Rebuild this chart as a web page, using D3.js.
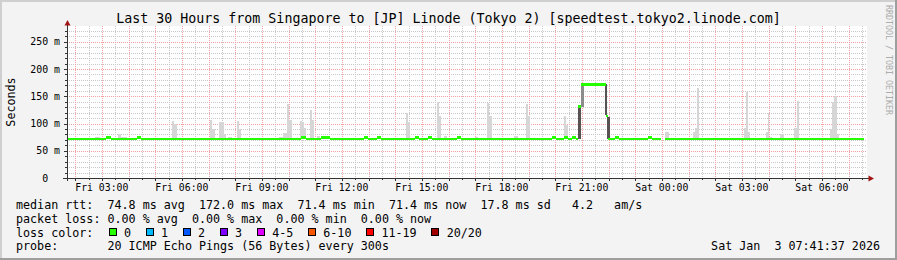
<!DOCTYPE html>
<html>
<head>
<meta charset="utf-8">
<script src="https://cdn.jsdelivr.net/npm/d3@7"></script>
<style>
  html, body { margin: 0; padding: 0; background: #f3f3f3; }
  svg { display: block; }
  text { font-family: "DejaVu Sans Mono", monospace; fill: #000; white-space: pre; }
</style>
</head>
<body>
<svg id="chart" width="897" height="260"></svg>
<script>
// ---- data ----
const title = "Last 30 Hours from Singapore to [JP] Linode (Tokyo 2) [speedtest.tokyo2.linode.com]";
const windowStart = "Fri 01:41:37";
const windowEnd = "Sat 07:41:37";

const yTicks = [0, 50, 100, 150, 200, 250];
const yTickLabels = ["0  ", "50 m", "100 m", "150 m", "200 m", "250 m"];

// median rtt (ms), step changes: [time, value]; null = no data
const medianSteps = [
  ["Fri 01:40", 71.4], ["Fri 03:09", 74.5], ["Fri 03:20", 71.4],
  ["Fri 04:18", 74.5], ["Fri 04:29", 71.4], ["Fri 10:28", 74.5],
  ["Fri 10:39", 71.4], ["Fri 11:13", 74.5], ["Fri 11:33", 71.4],
  ["Fri 12:50", 74.5], ["Fri 12:59", 71.4], ["Fri 13:19", 74.5],
  ["Fri 13:28", 71.4], ["Fri 14:45", 74.5], ["Fri 14:54", 71.4],
  ["Fri 15:14", 74.5], ["Fri 15:23", 71.4], ["Fri 16:19", 74.5],
  ["Fri 16:28", 71.4], ["Fri 19:53", 74.5], ["Fri 20:02", 71.4],
  ["Fri 20:20", 74.5], ["Fri 20:29", 71.4], ["Fri 20:38", 74.5],
  ["Fri 20:47", 71.4], ["Fri 20:52", 131], ["Fri 20:57", 172],
  ["Fri 21:54", 114], ["Fri 21:59", 71.4], ["Fri 22:15", 74.5],
  ["Fri 22:24", 71.4], ["Fri 23:29", 74.5], ["Fri 23:38", 71.4],
  ["Fri 23:57", null], ["Sat 00:08", 71.4], ["Sat 07:35", null]
];

// light smoke spikes: [from, to, max ms]
const smokeSpikes = [
  ["Fri 02:45", "Fri 02:56", 76], ["Fri 03:36", "Fri 03:43", 80], ["Fri 03:43", "Fri 03:57", 75],
  ["Fri 05:37", "Fri 05:43", 105], ["Fri 05:43", "Fri 05:48", 100],
  ["Fri 07:03", "Fri 07:08", 107], ["Fri 07:08", "Fri 07:15", 90],
  ["Fri 07:24", "Fri 07:34", 102], ["Fri 07:34", "Fri 07:39", 80], ["Fri 07:44", "Fri 07:53", 75],
  ["Fri 08:03", "Fri 08:09", 104], ["Fri 08:09", "Fri 08:14", 90], ["Fri 08:14", "Fri 08:27", 74],
  ["Fri 08:48", "Fri 08:56", 74], ["Fri 09:39", "Fri 09:48", 76], ["Fri 09:48", "Fri 09:57", 82],
  ["Fri 09:57", "Fri 10:02", 136], ["Fri 10:02", "Fri 10:08", 107],
  ["Fri 10:26", "Fri 10:30", 104], ["Fri 10:30", "Fri 10:35", 103], ["Fri 10:35", "Fri 10:39", 92],
  ["Fri 10:48", "Fri 10:53", 124], ["Fri 10:53", "Fri 10:57", 107], ["Fri 11:03", "Fri 11:11", 77],
  ["Fri 14:24", "Fri 14:29", 119], ["Fri 14:29", "Fri 14:33", 102],
  ["Fri 15:34", "Fri 15:39", 139], ["Fri 15:39", "Fri 15:43", 113], ["Fri 15:50", "Fri 15:57", 78],
  ["Fri 16:08", "Fri 16:15", 74], ["Fri 17:00", "Fri 17:06", 75],
  ["Fri 17:27", "Fri 17:31", 137], ["Fri 17:31", "Fri 17:38", 113], ["Fri 18:27", "Fri 18:36", 78],
  ["Fri 18:54", "Fri 18:59", 135], ["Fri 18:59", "Fri 19:03", 113],
  ["Fri 20:20", "Fri 20:24", 114], ["Fri 20:24", "Fri 20:29", 98],
  ["Sat 00:08", "Sat 00:15", 84], ["Sat 00:15", "Sat 00:23", 74],
  ["Sat 00:57", "Sat 01:09", 74], ["Sat 01:09", "Sat 01:15", 85], ["Sat 01:15", "Sat 01:19", 91],
  ["Sat 01:19", "Sat 01:24", 165], ["Sat 02:52", "Sat 02:56", 74],
  ["Sat 03:05", "Sat 03:09", 91], ["Sat 03:09", "Sat 03:14", 157], ["Sat 03:14", "Sat 03:18", 84],
  ["Sat 03:18", "Sat 03:30", 74], ["Sat 03:54", "Sat 03:59", 84], ["Sat 03:59", "Sat 04:02", 120],
  ["Sat 04:02", "Sat 04:08", 75], ["Sat 04:15", "Sat 04:21", 74], ["Sat 04:26", "Sat 04:35", 80],
  ["Sat 04:57", "Sat 05:04", 92], ["Sat 05:04", "Sat 05:09", 141], ["Sat 05:09", "Sat 05:20", 74],
  ["Sat 06:18", "Sat 06:23", 90], ["Sat 06:23", "Sat 06:27", 139], ["Sat 06:27", "Sat 06:34", 151],
  ["Sat 06:34", "Sat 06:39", 81], ["Sat 06:39", "Sat 06:43", 74], ["Sat 07:19", "Sat 07:24", 74]
];

// dense smoke around the jump: [from, to, min ms, max ms]
const smokeDark = [
  ["Fri 20:52", "Fri 20:57", 72, 131],
  ["Fri 21:52", "Fri 21:57", 115, 172],
  ["Fri 21:57", "Fri 22:03", 72, 112]
];
const smokeMid = [
  ["Fri 20:57", "Fri 21:05", 131, 172]
];

const legendLines = [
  "median rtt:  74.8 ms avg  172.0 ms max  71.4 ms min  71.4 ms now  17.8 ms sd   4.2   am/s",
  "packet loss: 0.00 % avg  0.00 % max  0.00 % min  0.00 % now",
  "loss color:",
  "probe:       20 ICMP Echo Pings (56 Bytes) every 300s"
];
const lossLabels = ["0", "1", "2", "3", "4-5", "6-10", "11-19", "20/20"];
const lossColors = ["#26ff00", "#00b8ff", "#0059ff", "#7e00ff", "#dd00ff", "#ff5500", "#ff0000", "#a10000"];
const stamp = "Sat Jan  3 07:41:37 2026";

// ---- drawing ----
const W = 897, H = 260;
const pLeft = 67, pRight = 867, pTop = 26, pBottom = 178;

const dayDate = { Fri: "2026-01-02", Sat: "2026-01-03" };
const parse = d3.timeParse("%Y-%m-%d %H:%M:%S");
const t = s => {
  const [d, hm] = s.split(" ");
  return parse(`${dayDate[d]} ${hm.length === 5 ? hm + ":00" : hm}`);
};

const x = d3.scaleTime().domain([t(windowStart), t(windowEnd)]).range([pLeft, pRight]);
const y = d3.scaleLinear().domain([0, 279]).range([pBottom, pTop]);
const px = v => Math.round(v) + 0.5;

const svg = d3.select("#chart");

// frame
svg.append("rect").attr("width", W).attr("height", H).attr("fill", "#f3f3f3");
svg.append("path").attr("d", `M1,${H} V1 H${W}`).attr("stroke", "#cfcfcf").attr("stroke-width", 2).attr("fill", "none");
svg.append("path").attr("d", `M0,${H - 1} H${W - 1} V0`).attr("stroke", "#9e9e9e").attr("stroke-width", 2).attr("fill", "none");

// canvas
svg.append("rect").attr("x", pLeft).attr("y", pTop).attr("width", pRight - pLeft).attr("height", pBottom - pTop).attr("fill", "#fff");

svg.append("clipPath").attr("id", "plotclip")
  .append("rect").attr("x", pLeft).attr("y", pTop).attr("width", pRight - pLeft).attr("height", pBottom - pTop);

// grid
const grid = svg.append("g").attr("shape-rendering", "crispEdges").attr("stroke-dasharray", "1,1");
const halfHours = x.ticks(d3.timeMinute.every(30)).filter(d => d.getMinutes() !== 0);
const hours = x.ticks(d3.timeHour.every(1));
grid.selectAll(".vmin").data(halfHours).join("line")
  .attr("x1", d => px(x(d))).attr("x2", d => px(x(d))).attr("y1", pTop).attr("y2", pBottom)
  .attr("stroke", "#c8c8c8");
const minorY = d3.range(10, 280, 10).filter(v => v % 50 !== 0);
grid.selectAll(".hmin").data(minorY).join("line")
  .attr("x1", pLeft).attr("x2", pRight).attr("y1", d => px(y(d))).attr("y2", d => px(y(d)))
  .attr("stroke", "#c8c8c8");
grid.selectAll(".vmaj").data(hours).join("line")
  .attr("x1", d => px(x(d))).attr("x2", d => px(x(d))).attr("y1", pTop).attr("y2", pBottom)
  .attr("stroke", "#f2a0a0");
grid.selectAll(".hmaj").data(yTicks.filter(v => v > 0)).join("line")
  .attr("x1", pLeft).attr("x2", pRight).attr("y1", d => px(y(d))).attr("y2", d => px(y(d)))
  .attr("stroke", "#f2a0a0");

// smoke
const plotG = svg.append("g").attr("clip-path", "url(#plotclip)").attr("shape-rendering", "crispEdges");
const baseRtt = 71.4;
plotG.append("g").selectAll("rect").data(smokeSpikes).join("rect")
  .attr("x", d => x(t(d[0]))).attr("width", d => x(t(d[1])) - x(t(d[0])))
  .attr("y", d => y(d[2])).attr("height", d => y(baseRtt) - y(d[2]))
  .attr("fill", "#d6d6d6");
plotG.append("g").selectAll("rect").data(smokeMid).join("rect")
  .attr("x", d => x(t(d[0]))).attr("width", d => x(t(d[1])) - x(t(d[0])))
  .attr("y", d => y(d[3])).attr("height", d => y(d[2]) - y(d[3]))
  .attr("fill", "#8c8c8c");
plotG.append("g").selectAll("rect").data(smokeDark).join("rect")
  .attr("x", d => x(t(d[0]))).attr("width", d => x(t(d[1])) - x(t(d[0])))
  .attr("y", d => y(d[3])).attr("height", d => y(d[2]) - y(d[3]))
  .attr("fill", "#585252");

// median band
const medianSegs = medianSteps.slice(0, -1)
  .map((d, i) => ({ t0: t(d[0]), t1: t(medianSteps[i + 1][0]), v: d[1] }))
  .filter(d => d.v != null);
plotG.append("g").selectAll("rect").data(medianSegs).join("rect")
  .attr("x", d => x(d.t0)).attr("width", d => x(d.t1) - x(d.t0))
  .attr("y", d => y(d.v) - 1.3).attr("height", 2.6)
  .attr("fill", lossColors[0]);

// axes
const axis = svg.append("g").attr("shape-rendering", "crispEdges").attr("stroke", "#333");
axis.append("line").attr("x1", pLeft + 0.5).attr("x2", pLeft + 0.5).attr("y1", 22).attr("y2", pBottom + 3);
axis.append("line").attr("x1", pLeft - 4).attr("x2", pRight + 2).attr("y1", pBottom + 0.5).attr("y2", pBottom + 0.5);
axis.selectAll(".xt").data(hours).join("line")
  .attr("x1", d => px(x(d))).attr("x2", d => px(x(d))).attr("y1", pBottom).attr("y2", pBottom + 3);
axis.selectAll(".xm").data(halfHours).join("line")
  .attr("x1", d => px(x(d))).attr("x2", d => px(x(d))).attr("y1", pBottom).attr("y2", pBottom + 2);
axis.selectAll(".yt").data(yTicks).join("line")
  .attr("x1", pLeft - 3).attr("x2", pLeft).attr("y1", d => px(y(d))).attr("y2", d => px(y(d)));
axis.selectAll(".ym").data(minorY).join("line")
  .attr("x1", pLeft - 2).attr("x2", pLeft).attr("y1", d => px(y(d))).attr("y2", d => px(y(d)));
svg.append("path").attr("d", `M${pLeft - 2.5},25.5 L${pLeft + 3.5},25.5 L${pLeft + 0.5},20 Z`).attr("fill", "#a31515");
svg.append("path").attr("d", `M${pRight + 1.5},${pBottom - 2.5} L${pRight + 1.5},${pBottom + 3.5} L${pRight + 7},${pBottom + 0.5} Z`).attr("fill", "#a31515");

// tick labels
svg.append("g").selectAll("text").data(yTicks).join("text")
  .attr("x", 60).attr("y", d => y(d) + 3.6)
  .attr("text-anchor", "end").style("font-size", "9.9px")
  .text((d, i) => yTickLabels[i]);

const fmt = d3.timeFormat("%a %H:%M");
svg.append("g").selectAll("text").data(x.ticks(d3.timeHour.every(3))).join("text")
  .attr("x", d => x(d)).attr("y", 191)
  .attr("text-anchor", "middle").style("font-size", "9.8px")
  .text(d => fmt(d));

// titles
svg.append("text").attr("x", W / 2).attr("y", 23).attr("text-anchor", "middle")
  .style("font-size", "13.3px").text(title);
svg.append("text").attr("transform", "translate(10.5,102) rotate(-90)")
  .attr("text-anchor", "middle").attr("dominant-baseline", "central")
  .style("font-size", "11.7px").text("Seconds");
svg.append("text").attr("transform", "translate(888.5,60) rotate(90)")
  .attr("text-anchor", "middle").attr("dominant-baseline", "central")
  .style("font-size", "8.3px").style("fill", "#acacac").text("RRDTOOL / TOBI OETIKER");

// legend
const rowY = [208.5, 222.5, 236.5, 250.3];
svg.append("g").selectAll("text").data(legendLines).join("text")
  .attr("x", 16).attr("y", (d, i) => rowY[i])
  .style("font-size", "11.7px").text(d => d);

const charW = 7.04;
let lx = 108.7;
const lossG = svg.append("g");
lossLabels.forEach((lab, i) => {
  lossG.append("rect").attr("x", Math.round(lx) + 0.5).attr("y", 228.5).attr("width", 7).attr("height", 7)
    .attr("fill", lossColors[i]).attr("stroke", "#000").attr("stroke-width", 1);
  lossG.append("text").attr("x", lx + 15.3).attr("y", rowY[2]).style("font-size", "11.7px").text(lab);
  lx += 15.3 + lab.length * charW + 14.7;
});

svg.append("text").attr("x", 880).attr("y", rowY[3]).attr("text-anchor", "end")
  .style("font-size", "11.7px").text(stamp);
</script>
</body>
</html>
